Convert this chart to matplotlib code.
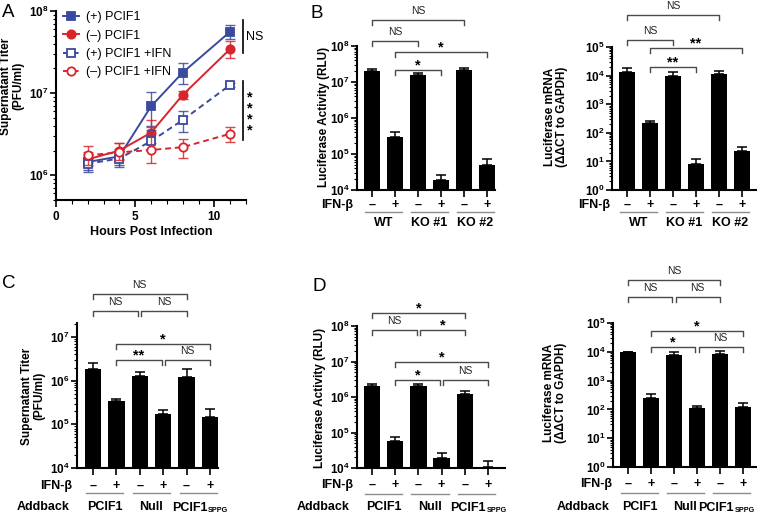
import numpy as np
import matplotlib

matplotlib.use("Agg")
import matplotlib.pyplot as plt
from matplotlib.lines import Line2D
from matplotlib.ticker import FixedLocator, FixedFormatter, NullFormatter
from matplotlib.transforms import blended_transform_factory

W, H = 757, 513
plt.rcParams.update({
    "font.family": "Liberation Sans",
    "mathtext.fontset": "custom",
    "mathtext.rm": "Liberation Sans",
    "mathtext.bf": "Liberation Sans:bold",
    "mathtext.it": "Liberation Sans:italic",
})

BLUE = "#3a4a9e"
RED = "#d8252b"
BRK = "#4a4a4a"
GRP = "#8c8c8c"

# ---- panel A: growth curves ----
hours = [2, 4, 6, 8, 11]
series_labels = ["(+) PCIF1", "(\u2013) PCIF1", "(+) PCIF1 +IFN", "(\u2013) PCIF1 +IFN"]
a_pcif1 = [1.45e6, 1.7e6, 6.9e6, 1.78e7, 5.6e7]
a_pcif1_lo = [1.1e6, 1.35e6, 4.0e6, 1.28e7, 4.6e7]
a_pcif1_hi = [1.8e6, 2.1e6, 1.03e7, 2.3e7, 6.8e7]
a_null = [1.56e6, 2.0e6, 3.3e6, 9.5e6, 3.45e7]
a_null_lo = [1.3e6, 1.6e6, 2.5e6, 8.6e6, 2.7e7]
a_null_hi = [1.9e6, 2.45e6, 4.7e6, 1.05e7, 4.3e7]
a_pcif1_ifn = [1.38e6, 1.6e6, 2.6e6, 4.7e6, 1.26e7]
a_pcif1_ifn_lo = [1.15e6, 1.25e6, 2.1e6, 3.4e6, 1.2e7]
a_pcif1_ifn_hi = [1.65e6, 2.0e6, 3.6e6, 6.0e6, 1.32e7]
a_null_ifn = [1.75e6, 1.9e6, 2.03e6, 2.2e6, 3.2e6]
a_null_ifn_lo = [1.35e6, 1.55e6, 1.4e6, 1.63e6, 2.55e6]
a_null_ifn_hi = [2.25e6, 2.5e6, 3.9e6, 2.8e6, 3.9e6]

# ---- bar panels: 6 bars each (mean, top of error bar) ----
ifn_signs = ["\u2013", "+"] * 3
b_groups = [("WT", ""), ("KO #1", ""), ("KO #2", "")]
addback_groups = [("PCIF1", ""), ("Null", ""), ("PCIF1", "SPPG")]

b_luc = [2.0e7, 2.9e5, 1.53e7, 1.9e4, 2.1e7, 4.8e4]
b_luc_hi = [2.35e7, 4.0e5, 1.8e7, 2.6e4, 2.4e7, 7.1e4]
b_mrna = [1.38e4, 224, 9.8e3, 7.9, 1.17e4, 24]
b_mrna_hi = [1.8e4, 255, 1.35e4, 12.5, 1.5e4, 32]
c_titer = [1.85e6, 3.4e5, 1.3e6, 1.75e5, 1.2e6, 1.5e5]
c_titer_hi = [2.5e6, 3.75e5, 1.58e6, 2.1e5, 1.87e6, 2.3e5]
d_luc = [2.08e6, 5.8e4, 2.0e6, 1.9e4, 1.18e6, 1.1e4]
d_luc_hi = [2.25e6, 7.4e4, 2.3e6, 2.6e4, 1.5e6, 1.54e4]
d_mrna = [1.0e4, 255, 7.9e3, 115, 8.2e3, 125]
d_mrna_hi = [1.0e4, 330, 9.5e3, 130, 1.03e4, 170]

fig = plt.figure(figsize=(W / 100, H / 100), dpi=100)


def fy(y):
    return 1 - y / H


def px_axes(l, t, r, b):
    return fig.add_axes([l / W, 1 - b / H, (r - l) / W, (b - t) / H])


def log_axis(ax, ylim):
    ax.set_yscale("log")
    ax.set_ylim(*ylim)
    lo, hi = int(np.ceil(np.log10(ylim[0]) - 1e-9)), int(np.floor(np.log10(ylim[1]) + 1e-9))
    ax.yaxis.set_major_locator(FixedLocator([10.0 ** k for k in range(lo, hi + 1)]))
    ax.yaxis.set_major_formatter(FixedFormatter([rf"$\mathbf{{10^{{{k}}}}}$" for k in range(lo, hi + 1)]))
    minors = [m * 10.0 ** k for k in range(lo - 1, hi + 1) for m in range(2, 10)
              if ylim[0] <= m * 10.0 ** k <= ylim[1]]
    ax.yaxis.set_minor_locator(FixedLocator(minors))
    ax.yaxis.set_minor_formatter(NullFormatter())
    for s in ("top", "right"):
        ax.spines[s].set_visible(False)
    for s in ("left", "bottom"):
        ax.spines[s].set_linewidth(1.5)
    ax.tick_params(which="major", length=4, width=1.2, labelsize=8.5, pad=1.5)
    ax.tick_params(which="minor", length=2.2, width=0.8)


def ylabel_text(x, y, s):
    fig.text(x / W, fy(y), s, rotation=90, ha="center", va="center", fontsize=8.5,
             fontweight="bold", multialignment="center", linespacing=1.0)


def bar_panel(rect, vals, hi, ylim, bar0, sp, ylabel, ylab_xy, groups, ifn_y, ifn_right,
              line_y, grp_y, brackets, addback_right=None, sub_shift=9.5):
    l, t, r, b = rect
    ax = px_axes(*rect)
    log_axis(ax, ylim)
    x = np.arange(len(vals))
    ax.bar(x, vals, width=0.7, color="black")
    vals = np.array(vals)
    ax.errorbar(x, vals, yerr=[np.zeros_like(vals), np.array(hi) - vals], fmt="none",
                ecolor="black", elinewidth=1.1, capsize=3.5, capthick=1.1)
    ax.set_xlim((l - bar0) / sp, (r - bar0) / sp)
    ax.set_xticks(x)
    ax.set_xticklabels([])
    ax.tick_params(axis="x", length=5, width=1.2)
    tr = blended_transform_factory(ax.transData, fig.transFigure)
    ylabel_text(ylab_xy[0], ylab_xy[1], ylabel)
    fig.text(ifn_right / W, fy(ifn_y), "IFN-\u03b2", ha="right", va="center", fontsize=9,
             fontweight="bold")
    for xi, s in zip(x, ifn_signs):
        ax.text(xi, fy(ifn_y), s, transform=tr, ha="center", va="center", fontsize=9,
                fontweight="bold")
    for g, (name, sub) in enumerate(groups):
        ax.plot([2 * g - 0.3, 2 * g + 1.3], [fy(line_y)] * 2, transform=tr, color=GRP, lw=1,
                clip_on=False)
        if sub:
            xc = 2 * g + 0.5 + sub_shift / sp
            ax.text(xc, fy(grp_y + 4), name, transform=tr, ha="right", va="baseline",
                    fontsize=9, fontweight="bold")
            ax.text(xc + 0.02, fy(grp_y + 5.5), sub, transform=tr, ha="left", va="baseline",
                    fontsize=5.2, fontweight="bold")
        else:
            ax.text(2 * g + 0.5, fy(grp_y), name, transform=tr, ha="center", va="center",
                    fontsize=9, fontweight="bold")
    if addback_right is not None:
        fig.text(addback_right / W, fy(grp_y), "Addback", ha="right", va="center", fontsize=9,
                 fontweight="bold")
    for x0, x1, y, lab in brackets:
        ax.plot([x0, x0, x1, x1], [fy(y + 4.5), fy(y), fy(y), fy(y + 4.5)], transform=tr,
                color=BRK, lw=1, clip_on=False)
        if lab == "NS":
            ax.text((x0 + x1) / 2, fy(y - 6), lab, transform=tr, ha="center", va="baseline",
                    fontsize=7.5, color="#222222")
        else:
            ax.text((x0 + x1) / 2, fy(y - 1), lab, transform=tr, ha="center", va="baseline",
                    fontsize=10.5, fontweight="bold")
    return ax


# ---- panel A ----
axA = px_axes(56, 11, 246, 200)
log_axis(axA, (5e5, 1e8))
axA.set_xlim(0, 12)
axA.set_xticks([0, 5, 10])
axA.set_xticks(range(0, 13), minor=True)
axA.set_xticklabels(["0", "5", "10"], fontweight="bold", fontsize=8.5)
axA.tick_params(axis="x", which="major", length=5, pad=3)
axA.tick_params(axis="x", which="minor", length=3)
styles = [
    (a_pcif1, a_pcif1_lo, a_pcif1_hi, BLUE, "s", BLUE, "-"),
    (a_null, a_null_lo, a_null_hi, RED, "o", RED, "-"),
    (a_pcif1_ifn, a_pcif1_ifn_lo, a_pcif1_ifn_hi, BLUE, "s", "white", (0, (3, 2))),
    (a_null_ifn, a_null_ifn_lo, a_null_ifn_hi, RED, "o", "white", (0, (3, 2))),
]
handles = []
for (y, lo, hi, c, m, fc, ls), lab in zip(styles, series_labels):
    y = np.array(y)
    axA.errorbar(hours, y, yerr=[y - np.array(lo), np.array(hi) - y], fmt="none", ecolor=c,
                 elinewidth=1, capsize=3.5, capthick=1, alpha=0.85)
    h, = axA.plot(hours, y, color=c, ls=ls, lw=1.4, marker=m, ms=6, mfc=fc, mec=c, mew=1.3,
                  label=lab)
    handles.append(h)
axA.legend(handles=handles, loc="upper left", bbox_to_anchor=(58 / W, fy(6)),
           bbox_transform=fig.transFigure, frameon=False, fontsize=9, handlelength=1.25,
           labelspacing=0.52, handletextpad=0.6, borderaxespad=0)
fig.text(151 / W, fy(232), "Hours Post Infection", ha="center", va="center", fontsize=9,
         fontweight="bold")
ylabel_text(12.5, 86, "Supernatant Titer\n(PFU/ml)")
fig.add_artist(Line2D([243 / W] * 2, [fy(20), fy(53)], color="black", lw=1.2))
fig.add_artist(Line2D([243 / W] * 2, [fy(81), fy(140)], color="black", lw=1.2))
fig.text(246 / W, fy(37), "NS", ha="left", va="center", fontsize=9)
fig.text(250 / W, fy(114), "*\n*\n*\n*", ha="center", va="center", fontsize=10.5,
         fontweight="bold", linespacing=0.72)

# ---- panel B ----
bar_panel((357, 46, 495, 190), b_luc, b_luc_hi, (1e4, 1e8), 372, 23,
          "Luciferase Activity (RLU)", (324, 117), b_groups, 205, 353, 212, 223,
          [(0, 4, 20, "NS"), (0, 2, 41, "NS"), (1, 5, 52, "*"), (1, 3, 70, "*")])
bar_panel((612, 47, 756, 190), b_mrna, b_mrna_hi, (1, 1e5), 627, 23,
          "Luciferase mRNA\n(\u0394\u0394CT to GAPDH)", (556, 117), b_groups, 205, 610, 212, 223,
          [(0, 4, 15, "NS"), (0, 2, 40, "NS"), (1, 5, 48, "**"), (1, 3, 67, "**")])

# ---- panel C ----
bar_panel((77, 323, 218, 468), c_titer, c_titer_hi, (1e4, 2.1e7), 93, 23.4,
          "Supernatant Titer\n(PFU/ml)", (33, 396), addback_groups, 486, 72, 493, 507,
          [(0, 4, 294, "NS"), (0, 1.93, 311, "NS"), (2.07, 4, 311, "NS"),
           (1, 5, 344, "*"), (1, 2.93, 360, "**"), (3.07, 5, 360, "NS")],
          addback_right=70)

# ---- panel D ----
bar_panel((357, 326, 505, 468), d_luc, d_luc_hi, (1e4, 1e8), 372, 23.2,
          "Luciferase Activity (RLU)", (320, 398), addback_groups, 485, 353, 494, 507,
          [(0, 4, 313, "*"), (0, 1.93, 330, "NS"), (2.07, 4, 330, "*"),
           (1, 5, 362, "*"), (1, 2.93, 380, "*"), (3.07, 5, 380, "NS")],
          addback_right=350)
bar_panel((613, 323, 756, 467), d_mrna, d_mrna_hi, (1, 1e5), 628, 23,
          "Luciferase mRNA\n(\u0394\u0394CT to GAPDH)", (555, 393), addback_groups, 484, 612, 493,
          507,
          [(0, 4, 280, "NS"), (0, 1.93, 297, "NS"), (2.07, 4, 297, "NS"),
           (1, 5, 331, "*"), (1, 2.93, 347, "*"), (3.07, 5, 347, "NS")],
          addback_right=610, sub_shift=2.5)

for lab, x, y in [("A", 2, 17), ("B", 311, 18), ("C", 2, 288), ("D", 312, 291)]:
    fig.text(x / W, fy(y), lab, fontsize=13.5, ha="left", va="baseline")

fig.savefig("out.png", dpi=100)
